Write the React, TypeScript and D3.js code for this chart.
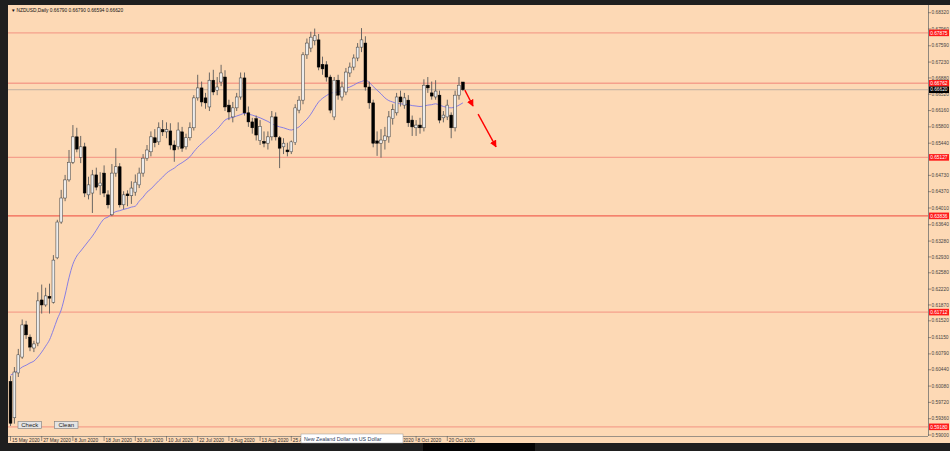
import React from "react";
import * as d3 from "d3";

// ---------- DATA ----------
const openP = [
  0.6018, 0.5938, 0.6037, 0.6072, 0.6143, 0.6116, 0.6092, 0.6103, 0.6198, 0.6187,
  0.6206, 0.6193, 0.6291, 0.637, 0.6423, 0.6463, 0.6502, 0.6558, 0.6513, 0.6536,
  0.643, 0.6434, 0.6474, 0.645, 0.6478, 0.643, 0.6386, 0.6478, 0.6492, 0.6408,
  0.6432, 0.6428, 0.6436, 0.6452, 0.6478, 0.6511, 0.6525, 0.6556, 0.6547, 0.6574,
  0.6569, 0.6571, 0.654, 0.6536, 0.6569, 0.6536, 0.6556, 0.6578, 0.6644, 0.6666,
  0.6644, 0.6624, 0.6683, 0.6661, 0.6679, 0.669, 0.6628, 0.6602, 0.6622, 0.6646,
  0.6688, 0.6611, 0.6591, 0.6598, 0.655, 0.6548, 0.6544, 0.6558, 0.6602, 0.6556,
  0.6536, 0.6529, 0.6525, 0.6545, 0.6617, 0.6639, 0.6739, 0.6754, 0.677, 0.6772,
  0.6718, 0.6717, 0.669, 0.6602, 0.6683, 0.6646, 0.6657, 0.6699, 0.6712, 0.6732,
  0.6756, 0.6765, 0.6668, 0.6633, 0.6549, 0.6544, 0.655, 0.6558, 0.6598, 0.6611,
  0.6646, 0.6628, 0.6639, 0.6595, 0.6578, 0.6584, 0.6578, 0.6672, 0.6655, 0.6646,
  0.665, 0.66, 0.6602, 0.6606, 0.6578, 0.665, 0.6679,
];
const highP = [
  0.603, 0.605, 0.609, 0.6155, 0.6152, 0.6122, 0.6108, 0.6215, 0.6232, 0.6225,
  0.6234, 0.6297, 0.6375, 0.6441, 0.6474, 0.6529, 0.6584, 0.6578, 0.656, 0.6545,
  0.647, 0.6485, 0.649, 0.648, 0.6495, 0.644, 0.6498, 0.6533, 0.65, 0.6438,
  0.644, 0.646, 0.6475, 0.649, 0.652, 0.654, 0.657, 0.6575, 0.659, 0.6595,
  0.659, 0.6588, 0.655, 0.659, 0.658, 0.6565, 0.659, 0.665, 0.6695, 0.668,
  0.6655, 0.67, 0.6706, 0.669, 0.6717, 0.6705, 0.664, 0.6635, 0.6655, 0.67,
  0.67, 0.6625, 0.66, 0.6605, 0.6595, 0.657, 0.657, 0.6615, 0.6612, 0.656,
  0.6555, 0.6545, 0.655, 0.663, 0.6648, 0.6745, 0.6775, 0.679, 0.6797, 0.6785,
  0.6735, 0.6725, 0.6695, 0.669, 0.6695, 0.668, 0.671, 0.6722, 0.674, 0.6765,
  0.6798, 0.678, 0.668, 0.664, 0.657, 0.6575, 0.658, 0.6615, 0.663, 0.6655,
  0.666, 0.6655, 0.665, 0.6605, 0.6595, 0.66, 0.6685, 0.669, 0.668, 0.6683,
  0.666, 0.6615, 0.664, 0.6612, 0.666, 0.669, 0.6679,
];
const lowP = [
  0.592, 0.5925, 0.6028, 0.6068, 0.6112, 0.6085, 0.6083, 0.6096, 0.6168, 0.6183,
  0.6168, 0.619, 0.6288, 0.6366, 0.6416, 0.6459, 0.6498, 0.6524, 0.65, 0.6425,
  0.642, 0.639, 0.644, 0.643, 0.6425, 0.64, 0.6383, 0.647, 0.6402, 0.6398,
  0.6405, 0.641, 0.6428, 0.6445, 0.647, 0.6505, 0.6515, 0.6535, 0.654, 0.656,
  0.6555, 0.653, 0.6503, 0.653, 0.6525, 0.653, 0.655, 0.6572, 0.6638, 0.6625,
  0.662, 0.6615, 0.665, 0.665, 0.667, 0.6615, 0.6595, 0.659, 0.6615, 0.664,
  0.6605, 0.658, 0.6565, 0.655, 0.654, 0.6535, 0.653, 0.655, 0.655, 0.6489,
  0.652, 0.6515, 0.652, 0.654, 0.661, 0.663, 0.673, 0.6745, 0.676, 0.6705,
  0.6695, 0.668, 0.661, 0.6595, 0.664, 0.6638, 0.665, 0.669, 0.6705, 0.6725,
  0.6745, 0.666, 0.662, 0.6535, 0.6516, 0.6512, 0.653, 0.6545, 0.6585, 0.6605,
  0.6625, 0.662, 0.658, 0.656, 0.656, 0.6565, 0.657, 0.6655, 0.664, 0.664,
  0.6588, 0.659, 0.6595, 0.6555, 0.657, 0.664, 0.6659,
];
const closeP = [
  0.5926, 0.6039, 0.6077, 0.6143, 0.6121, 0.6094, 0.6101, 0.6196, 0.6187, 0.6207,
  0.6202, 0.6286, 0.637, 0.6423, 0.6463, 0.6502, 0.6558, 0.6531, 0.6536, 0.6434,
  0.6452, 0.6474, 0.6447, 0.6456, 0.6434, 0.6408, 0.6478, 0.6492, 0.6408, 0.643,
  0.6428, 0.6445, 0.6458, 0.6478, 0.6511, 0.6529, 0.6558, 0.6545, 0.6578, 0.6569,
  0.6574, 0.654, 0.6529, 0.6573, 0.6533, 0.6556, 0.6578, 0.6644, 0.6666, 0.6635,
  0.6633, 0.6683, 0.6657, 0.6668, 0.6699, 0.6624, 0.6613, 0.6622, 0.6646, 0.6688,
  0.6611, 0.6591, 0.6578, 0.6562, 0.6581, 0.6544, 0.6558, 0.6602, 0.6558, 0.6533,
  0.6544, 0.6525, 0.6547, 0.6622, 0.6639, 0.6739, 0.6765, 0.6778, 0.6781, 0.6712,
  0.6708, 0.669, 0.6617, 0.6683, 0.665, 0.6668, 0.6701, 0.6712, 0.6732, 0.6756,
  0.6772, 0.6668, 0.6633, 0.6544, 0.6544, 0.6551, 0.656, 0.6602, 0.6618, 0.6646,
  0.6635, 0.6644, 0.6589, 0.658, 0.6584, 0.6578, 0.6672, 0.6666, 0.6648, 0.6659,
  0.6595, 0.6606, 0.6628, 0.6578, 0.665, 0.6672, 0.6662,
];
// moving average line (one value per bar)
const maP = [
  0.6032, 0.6037, 0.6043, 0.605, 0.6054, 0.6059, 0.6063, 0.6072, 0.6083, 0.6096,
  0.611, 0.6132, 0.6156, 0.6176, 0.6209, 0.6247, 0.6277, 0.6295, 0.6306, 0.6317,
  0.6328, 0.6339, 0.6352, 0.6366, 0.6377, 0.6381, 0.6388, 0.6393, 0.6395, 0.6398,
  0.64, 0.6403, 0.6405, 0.6416, 0.6425, 0.6436, 0.6443, 0.6452, 0.6461, 0.6469,
  0.6478, 0.6484, 0.6489, 0.6496, 0.6501, 0.6507, 0.6514, 0.6525, 0.6535, 0.6543,
  0.6551, 0.6559, 0.6567, 0.6575, 0.6585, 0.6595, 0.6599, 0.6601, 0.6604, 0.6607,
  0.661, 0.6608, 0.6606, 0.6603, 0.66, 0.6596, 0.6592, 0.6587, 0.6583, 0.658,
  0.6578, 0.6575, 0.6573, 0.6576, 0.658, 0.6589, 0.6597, 0.6608, 0.6622, 0.6635,
  0.6643, 0.6649, 0.6654, 0.6656, 0.6657, 0.666, 0.6665, 0.6668, 0.6672, 0.6677,
  0.668, 0.6683, 0.6678, 0.6669, 0.6661, 0.6653, 0.6644, 0.6638, 0.6635, 0.6632,
  0.6631, 0.663, 0.6629, 0.6627, 0.6626, 0.6625, 0.6626, 0.6628, 0.6629, 0.6631,
  0.6628, 0.6625, 0.6623, 0.6622, 0.6624, 0.6628, 0.6633,
];

// time labels visible in the reference (the ones under the description box are hidden there)
const xTickIndex = [0, 8, 16, 24, 32, 40, 48, 56, 64, 72, 96, 104, 112];
const xTickLabels = [
  "15 May 2020", "27 May 2020", "8 Jun 2020", "18 Jun 2020", "30 Jun 2020",
  "10 Jul 2020", "22 Jul 2020", "3 Aug 2020", "13 Aug 2020", "25 Aug 2020",
  "28 Sep 2020", "8 Oct 2020", "20 Oct 2020",
];
const yTickLabels = [
  "0.68320", "0.67960", "0.67590", "0.67230", "0.66880", "0.66520", "0.66160",
  "0.65800", "0.65440", "0.64730", "0.64370", "0.64010", "0.63640",
  "0.63280", "0.62930", "0.62580", "0.62220", "0.61870", "0.61520", "0.61150",
  "0.60790", "0.60440", "0.60080", "0.59720", "0.59360", "0.59000",
];
const levelValues = [0.67875, 0.66762, 0.65127, 0.63836, 0.61712, 0.5918];
const levelLabels = ["0.67875", "0.66762", "0.65127", "0.63836", "0.61712", "0.59180"];
const lastPrice = 0.6662;
const lastPriceLabel = "0.66620";
const headerText = "NZDUSD,Daily  0.66790 0.66790 0.66594 0.66620";
const symbolDesc = "New Zealand Dollar vs US Dollar";
// trend arrows in (bar index, price) space
const arrowStart = [[116.5, 0.6661], [119.9, 0.6608]];
const arrowEnd = [[118.6, 0.6626], [124.5, 0.6536]];

// ---------- LAYOUT ----------
const W = 950;
const H = 451;
const plotL = 8;
const plotR = 928;
const plotT = 5;
const plotB = 436;
const BG = "#FDD9B5";

export default function App() {
  const x = d3.scaleLinear().domain([0, 116]).range([10.5, 10.5 + 116 * 3.9]);
  const y = d3.scaleLinear().domain([0.59, 0.6832]).range([435, 12.7]);
  const idx = d3.range(closeP.length);
  const maLine = d3
    .line<number>()
    .x((i) => x(i))
    .y((i) => y(maP[i]))
    .curve(d3.curveMonotoneX);

  const font = "'Liberation Sans', Arial, sans-serif";
  const bodyW = 2.8;

  return (
    <div style={{ position: "fixed", left: 0, top: 0 }}>
      <svg width={W} height={H} style={{ display: "block" }}>
        <defs>
          <marker id="ah" viewBox="0 0 10 10" refX="9" refY="5" markerWidth="5" markerHeight="5" orient="auto">
            <path d="M0,0 L10,5 L0,10 z" fill="#ff0000" />
          </marker>
          <clipPath id="plotclip">
            <rect x={plotL} y={plotT} width={plotR - plotL} height={plotB - plotT} />
          </clipPath>
          <clipPath id="xlabclip">
            <rect x={plotL} y={plotB} width={301 - plotL} height={8} />
            <rect x={403.5} y={plotB} width={plotR - 403.5} height={8} />
          </clipPath>
        </defs>
        {/* frame */}
        <rect x={0} y={0} width={W} height={H} fill="#1f1f1f" />
        <rect x={423} y={443} width={112} height={8} fill="#050505" />
        <rect x={plotL} y={plotT} width={W - plotL} height={443 - plotT} fill={BG} />

        {/* header */}
        <text x={11} y={11.5} fontFamily={font} fontSize={4.6} fill="#111">▼</text>
        <text x={16.5} y={11.5} fontFamily={font} fontSize={4.8} fill="#111">{headerText}</text>

        <g clipPath="url(#plotclip)">
          {/* last price line */}
          <line x1={plotL} x2={plotR} y1={y(lastPrice)} y2={y(lastPrice)} stroke="#bfb0a2" strokeWidth={1} />
          {/* levels */}
          {levelValues.map((v, k) => (
            <line key={k} x1={plotL} x2={plotR} y1={y(v)} y2={y(v)}
              stroke={k === 3 ? "#f26454" : "#f5a08c"} strokeWidth={k === 3 ? 1.1 : 1.4} />
          ))}
          {/* MA */}
          <path d={maLine(idx) || ""} fill="none" stroke="#7b74e6" strokeWidth={0.9} />
          {/* candles */}
          {idx.map((i) => {
            const bull = closeP[i] >= openP[i];
            const top = y(Math.max(openP[i], closeP[i]));
            const bot = y(Math.min(openP[i], closeP[i]));
            return (
              <g key={i}>
                <line x1={x(i)} x2={x(i)} y1={y(highP[i])} y2={y(lowP[i])} stroke="#5a5a5a" strokeWidth={0.9} />
                <rect x={x(i) - bodyW / 2} y={top} width={bodyW} height={Math.max(bot - top, 0.8)}
                  fill={bull ? "#ececec" : "#000"} stroke={bull ? "#3a3a3a" : "#000"} strokeWidth={0.5} />
              </g>
            );
          })}
          {/* arrows */}
          {arrowStart.map((s, k) => (
            <line key={k} x1={x(s[0])} y1={y(s[1])} x2={x(arrowEnd[k][0])} y2={y(arrowEnd[k][1])}
              stroke="#ff0000" strokeWidth={1.4} markerEnd="url(#ah)" />
          ))}
        </g>

        {/* axes lines */}
        <line x1={plotR + 0.5} x2={plotR + 0.5} y1={plotT} y2={plotB} stroke="#8f877d" strokeWidth={1} />
        <line x1={plotL} x2={plotR} y1={plotB + 0.5} y2={plotB + 0.5} stroke="#9b9185" strokeWidth={1.2} />

        {/* y ticks */}
        {yTickLabels.map((t, k) => {
          const yy = y(parseFloat(t));
          return (
            <g key={k}>
              <line x1={plotR} x2={plotR + 3} y1={yy} y2={yy} stroke="#555" strokeWidth={0.6} />
              <text x={plotR + 3.5} y={yy + 1.6} fontFamily={font} fontSize={4.8} fill="#444">{t}</text>
            </g>
          );
        })}
        {/* level labels */}
        {levelValues.map((v, k) => (
          <g key={k}>
            <rect x={plotR + 1} y={y(v) - 3.3} width={20} height={6.6} fill="#ff1a1a" />
            <text x={plotR + 2.2} y={y(v) + 1.7} fontFamily={font} fontSize={4.8} fill="#fff">{levelLabels[k]}</text>
          </g>
        ))}
        <rect x={plotR + 1} y={y(lastPrice) - 3.3} width={20} height={6.6} fill="#000" />
        <text x={plotR + 2.2} y={y(lastPrice) + 1.7} fontFamily={font} fontSize={4.8} fill="#fff">{lastPriceLabel}</text>

        {/* x ticks */}
        <g clipPath="url(#xlabclip)">
          {xTickIndex.map((i, k) => (
            <g key={k}>
              <line x1={x(i)} x2={x(i)} y1={plotB} y2={plotB + 5} stroke="#555" strokeWidth={0.6} />
              <text x={x(i) + 1.5} y={441.8} fontFamily={font} fontSize={4.8} fill="#333">{xTickLabels[k]}</text>
            </g>
          ))}
        </g>

        {/* symbol description box */}
        <rect x={301} y={434} width={102} height={9} fill="#fff" stroke="#999" strokeWidth={0.5} />
        <text x={304} y={441.2} fontFamily={font} fontSize={5.3} fill="#2c3d5c">{symbolDesc}</text>

        {/* buttons */}
        {[["Check", 18], ["Clean", 54.5]].map(([label, bx], k) => (
          <g key={k}>
            <rect x={bx as number} y={421.5} width={23.5} height={7} fill="#e4e4e4" stroke="#7a7a7a" strokeWidth={0.6} />
            <text x={(bx as number) + 11.75} y={427.3} textAnchor="middle" fontFamily={font} fontSize={6} fill="#222">{label}</text>
          </g>
        ))}
      </svg>
    </div>
  );
}
